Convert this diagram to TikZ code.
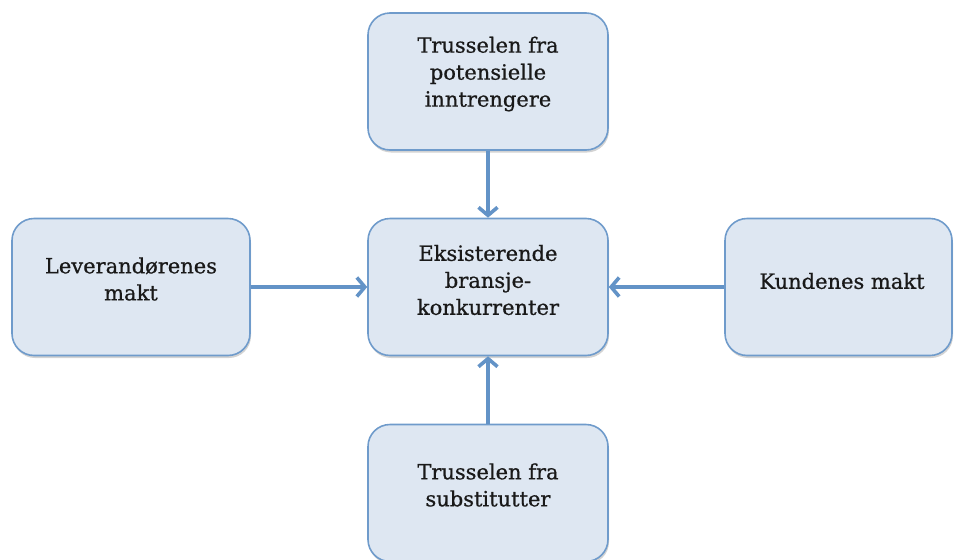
\documentclass[tikz,border=0pt]{standalone}
\usepackage{fontspec}
\setmainfont{DejaVu Serif}
\newfontfamily\lblfont{DejaVu Serif}[FakeBold=0.7]
\usetikzlibrary{arrows.meta,shadows}
\definecolor{boxfill}{HTML}{DEE7F2}
\definecolor{boxline}{HTML}{6F9BCB}
\definecolor{arrcol}{HTML}{6393C7}
\tikzset{
  box/.style={draw=boxline, fill=boxfill, line width=1.6pt, rounded corners=22pt,
    minimum height=137pt, inner sep=0pt,
    drop shadow={opacity=0.35, shadow xshift=1pt, shadow yshift=-2.5pt}},
  lbl/.style={align=center, font=\lblfont\fontsize{21}{27}\selectfont, text=black!90, inner sep=0pt},
  conn/.style={draw=arrcol, line width=3.6pt, -{Straight Barb[length=8pt,width=19pt,line width=3.6pt]}}
}
\begin{document}
\begin{tikzpicture}[x=1pt,y=-1pt]
\useasboundingbox (0,0) rectangle (954,560);
\node[box, minimum width=240pt] (topb) at (488,81.5) {};
\node[box, minimum width=240pt] (cen) at (488,287) {};
\node[box, minimum width=238pt] (lft) at (131,287) {};
\node[box, minimum width=227pt] (rgt) at (838.5,287) {};
\node[box, minimum width=240pt] (bot) at (488,493) {};
\node[lbl] (topt) at (488,74) {Trusselen fra\\potensielle\\inntrengere};
\node[lbl] (cent) at (488,280) {Eksisterende\\bransje-\\konkurrenter};
\node[lbl] (lftt) at (131,279) {Leverandørenes\\makt};
\node[lbl] (rgtt) at (842,281) {Kundenes makt};
\node[lbl] (bott) at (488,485) {Trusselen fra\\substitutter};
\draw[conn] (topb.south) -- (cen.north);
\draw[conn] (lft.east) -- (cen.west);
\draw[conn] (rgt.west) -- (cen.east);
\draw[conn] (bot.north) -- (cen.south);
\end{tikzpicture}
\end{document}
